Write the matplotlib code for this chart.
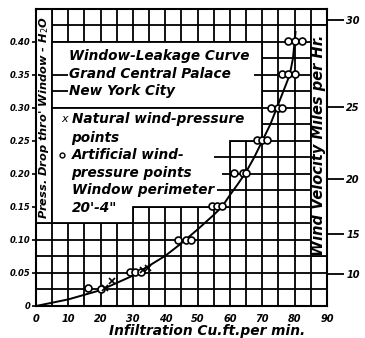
import numpy as np
import matplotlib
matplotlib.use('Agg')
import matplotlib.pyplot as plt
from matplotlib.patches import Polygon

# artificial wind-pressure test points (infiltration cu.ft/min, pressure in. H2O)
art_x = [16.1, 20.1, 29.0, 30.6, 32.4, 43.9, 46.5, 48.0, 54.3, 55.9, 57.7,
         61.4, 64.0, 65.1, 68.3, 70.0, 71.6, 72.8, 75.0, 76.2,
         76.0, 78.0, 80.0, 78.1, 80.0, 82.4]
art_y = [0.027, 0.026, 0.052, 0.052, 0.052, 0.100, 0.100, 0.100, 0.152, 0.152, 0.152,
         0.202, 0.202, 0.202, 0.252, 0.252, 0.252, 0.300, 0.300, 0.300,
         0.352, 0.352, 0.352, 0.402, 0.402, 0.402]

# natural wind-pressure points
nat_x = [21.5, 23.5, 33.0, 34.5]
nat_y = [0.028, 0.038, 0.055, 0.057]

# leakage curve
curve_x = [0, 10, 20, 30, 40, 45, 50, 55, 57.5, 60, 62.5, 65, 67.5, 70, 72.5,
           74.5, 76.5, 78.5, 79.5, 80.0, 80.3]
curve_y = [0, 0.010, 0.024, 0.046, 0.076, 0.095, 0.116, 0.138, 0.150, 0.168, 0.185,
           0.203, 0.225, 0.250, 0.275, 0.300, 0.325, 0.350, 0.375, 0.400, 0.415]

x_ticks = [0, 10, 20, 30, 40, 50, 60, 70, 80, 90]
y_ticks = [0, 0.05, 0.10, 0.15, 0.20, 0.25, 0.30, 0.35, 0.40]
y_labels = ['0', '0.05', '0.10', '0.15', '0.20', '0.25', '0.30', '0.35', '0.40']
wind_ticks = [10, 15, 20, 25, 30]
K = 0.000482  # in. water per (mph)^2

box_lines = ['Window-Leakage Curve', 'Grand Central Palace', 'New York City']
legend_lines = ['Natural wind-pressure', 'points', 'Artificial wind-',
                'pressure points', 'Window perimeter', '20\'-4"']

fig = plt.figure(figsize=(3.65, 3.38), dpi=100)
ax = fig.add_axes([0.0986, 0.0947, 0.797, 0.879])
ax.set_xlim(0, 90)
ax.set_ylim(0, 0.45)

lw = 1.3
for gx in np.arange(0, 90.1, 5):
    ax.axvline(gx, color='black', lw=lw, zorder=1)
for gy in np.arange(0, 0.451, 0.025):
    ax.axhline(gy, color='black', lw=lw, zorder=1)

# white label areas
shapes = [
    [(0, 0.125), (5, 0.125), (5, 0.45), (0, 0.45)],
    [(5, 0.30), (70, 0.30), (70, 0.40), (5, 0.40)],
    [(5, 0.125), (30, 0.125), (30, 0.15), (60, 0.15), (60, 0.25), (70, 0.25),
     (70, 0.30), (5, 0.30)],
    [(85, 0.075), (90, 0.075), (90, 0.425), (85, 0.425)],
]
for s in shapes:
    ax.add_patch(Polygon(s, closed=True, facecolor='white', edgecolor='black',
                         lw=lw, zorder=2))
# short grid stubs poking into the boxes
ax.hlines([0.35, 0.325], 5, 10, color='black', lw=lw, zorder=3)
ax.hlines([0.35], 67.5, 70, color='black', lw=lw, zorder=3)
ax.hlines([0.225, 0.20, 0.175], [55, 57.5, 56], 60, color='black', lw=lw, zorder=3)

ax.plot(curve_x, curve_y, color='black', lw=1.4, zorder=4)
ax.plot(art_x, art_y, 'o', ms=5, mfc='white', mec='black', mew=1.2, zorder=5)
ax.plot(nat_x, nat_y, 'x', ms=4, color='black', mew=1.2, zorder=5)

tf = dict(style='italic', fontweight='bold', fontsize=9.8, color='black',
          va='center', zorder=6)
for i, t in enumerate(box_lines):
    ax.text(10.2, 0.378 - i * 0.026, t, **tf)
leg_y = [0.283, 0.255, 0.228, 0.201, 0.176, 0.149]
for t, yy in zip(legend_lines, leg_y):
    ax.text(11.0, yy, t, **tf)
ax.text(7.7, 0.283, 'x', style='italic', fontsize=8, va='center', zorder=6)
ax.plot([8.0], [0.228], 'o', ms=3.5, mfc='white', mec='black', mew=1.0, zorder=6)

ax.text(2.5, 0.285, "Press. Drop thro' Window - H$_2$O", rotation=90, style='italic',
        fontweight='bold', fontsize=8.2, ha='center', va='center', zorder=6)
ax.text(87.5, 0.243, 'Wind Velocity Miles per Hr.', rotation=90, style='italic',
        fontweight='bold', fontsize=10.5, ha='center', va='center', zorder=6)

for sp in ax.spines.values():
    sp.set_linewidth(1.5)
    sp.set_zorder(7)

ax.set_xticks(x_ticks)
ax.set_xticklabels([str(v) for v in x_ticks], style='italic', fontweight='bold', fontsize=7)
ax.set_yticks(y_ticks)
ax.set_yticklabels(y_labels, style='italic', fontweight='bold', fontsize=6)
ax.tick_params(axis='x', length=0, pad=6)
ax.tick_params(axis='y', length=3, width=1.2, pad=1)
ax.text(0.59, -0.083, 'Infiltration Cu.ft.per min.', transform=ax.transAxes,
        style='italic', fontweight='bold', fontsize=9.9, ha='center', va='center')

sec = ax.secondary_yaxis('right', functions=(lambda p: np.sqrt(np.clip(p, 0, None) / K),
                                             lambda v: K * np.asarray(v) ** 2))
sec.set_yticks(wind_ticks)
sec.set_yticklabels([str(v) for v in wind_ticks], style='italic', fontweight='bold', fontsize=7)
sec.tick_params(length=12, width=1.3, pad=2)
sec.spines['right'].set_visible(False)

fig.savefig('out.png', dpi=100)
